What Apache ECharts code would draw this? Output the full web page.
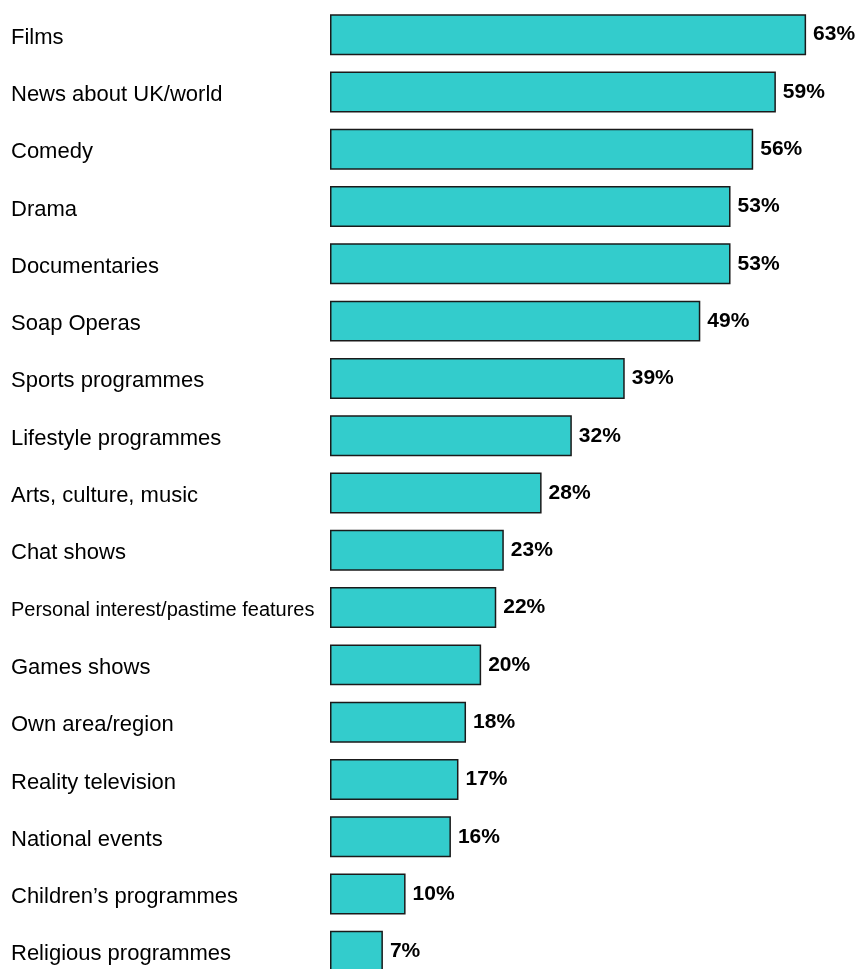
<!DOCTYPE html>
<html>
<head>
<meta charset="utf-8">
<style>
  html, body { margin: 0; padding: 0; background: #fff; }
  #chart { width: 858px; height: 969px; }
</style>
<script src="https://cdn.jsdelivr.net/npm/echarts@6/dist/echarts.min.js"></script>
</head>
<body>
<div id="chart"></div>
<script>
// Programme genres, top to bottom
const categories = [
  'Films', 'News about UK/world', 'Comedy', 'Drama', 'Documentaries',
  'Soap Operas', 'Sports programmes', 'Lifestyle programmes',
  'Arts, culture, music', 'Chat shows', 'Personal interest/pastime features',
  'Games shows', 'Own area/region', 'Reality television', 'National events',
  'Children\u2019s programmes', 'Religious programmes'
];
// Share of respondents (%)
const values = [63, 59, 56, 53, 53, 49, 39, 32, 28, 23, 22, 20, 18, 17, 16, 10, 7];
// Long label drawn in a smaller size
const smallLabels = ['Personal interest/pastime features'];

const chart = echarts.init(document.getElementById('chart'), null, { renderer: 'canvas' });

chart.setOption({
  animation: false,
  backgroundColor: '#ffffff',
  textStyle: { fontFamily: 'Liberation Sans, Arial, sans-serif' },
  grid: {
    left: 330, top: 6, width: 529, height: 974,
    containLabel: false,
    outerBoundsMode: 'none'
  },
  xAxis: {
    type: 'value', min: 0, max: 70,
    show: false
  },
  yAxis: {
    type: 'category',
    data: categories,
    inverse: true,
    axisLine: { show: false },
    axisTick: { show: false },
    axisLabel: {
      align: 'left',
      margin: 319,
      color: '#000',
      fontSize: 22,
      fontFamily: 'Liberation Sans, Arial, sans-serif',
      padding: [6, 0, 0, 0],
      formatter: v => smallLabels.includes(v) ? '{s|' + v + '}' : v,
      rich: {
        s: { fontSize: 20, color: '#000', fontFamily: 'Liberation Sans, Arial, sans-serif' }
      }
    }
  },
  series: [{
    type: 'bar',
    data: values,
    barCategoryGap: '28.5%',
    itemStyle: { color: '#33CCCC', borderColor: '#1a1a1a', borderWidth: 1.5 },
    label: {
      show: true,
      position: 'right',
      distance: 7,
      formatter: '{c}%',
      color: '#000',
      fontSize: 21,
      fontWeight: 'bold',
      fontFamily: 'Liberation Sans, Arial, sans-serif'
    }
  }]
});
</script>
</body>
</html>
